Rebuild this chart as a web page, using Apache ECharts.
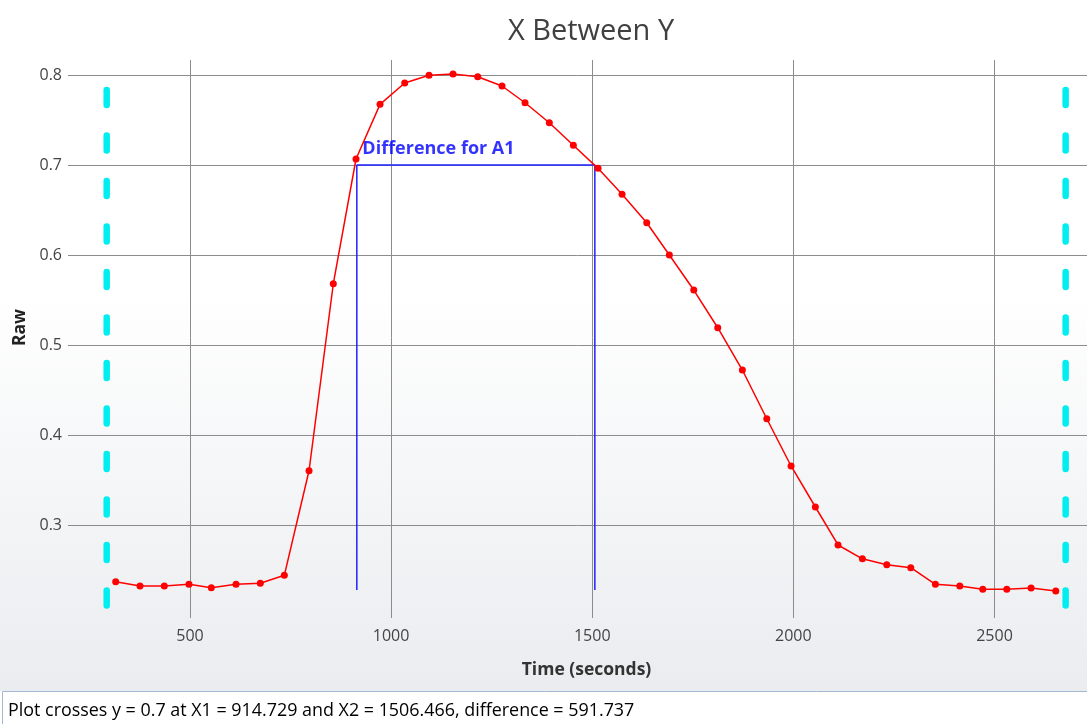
<!DOCTYPE html>
<html>
<head>
<meta charset="utf-8">
<title>X Between Y</title>
<script src="https://cdn.jsdelivr.net/npm/echarts@6/dist/echarts.min.js"></script>
<style>
  html, body { margin: 0; padding: 0; background: #fff; }
  #chart { width: 1087px; height: 724px; }
</style>
</head>
<body>
<div id="chart"></div>
<script>
// sample times (s) and raw readings
const timeSec = [315.3, 375.7, 436.1, 497.5, 553.0, 614.4, 674.8, 734.5, 795.9, 856.3,
  912.7, 972.4, 1033.8, 1094.2, 1153.9, 1215.3, 1275.7, 1332.9, 1393.3, 1453.0,
  1514.4, 1574.1, 1635.5, 1691.7, 1752.4, 1812.0, 1873.2, 1933.9, 1994.3, 2054.7,
  2111.1, 2171.6, 2232.2, 2291.9, 2353.1, 2413.7, 2470.9, 2530.6, 2591.0, 2652.4];
const raw = [0.2370, 0.2322, 0.2322, 0.2341, 0.2303, 0.2341, 0.2352, 0.2441, 0.3603, 0.5681,
  0.7067, 0.7674, 0.7911, 0.7997, 0.8011, 0.7981, 0.7878, 0.7692, 0.7470, 0.7219,
  0.6963, 0.6676, 0.6359, 0.6000, 0.5611, 0.5192, 0.4722, 0.4181, 0.3656, 0.3200,
  0.2778, 0.2624, 0.2559, 0.2526, 0.2341, 0.2322, 0.2286, 0.2286, 0.2300, 0.2267];

// crossing of y = 0.7
const crossY = 0.7;
const crossX = [914.729, 1506.466];
const crossBase = 0.2278;          // bottom of the blue drop lines
const crossLabel = 'Difference for A1';

// cyan bounds (left / right cursors)
const boundX = [292.9, 2676.9];
const boundY = [0.7833, 0.2106];   // drawn top -> bottom

const xTicks = [500, 1000, 1500, 2000, 2500];
const xRange = [196.7, 2730];
const yRange = [0.2, 0.8167];

const info = `Plot crosses y = ${crossY} at X1 = ${crossX[0]} and X2 = ${crossX[1]}, difference = ${(crossX[1] - crossX[0]).toFixed(3)}`;

const FONT = '"Open Sans", "Noto Sans", sans-serif';
const GRID = '#8c8c8c';

const chart = echarts.init(document.getElementById('chart'), null, { renderer: 'canvas' });

chart.setOption({
  animation: false,
  textStyle: { fontFamily: FONT },
  title: {
    text: 'X Between Y',
    left: 586,
    top: 12,
    textAlign: 'center',
    textStyle: { fontFamily: FONT, fontSize: 29, fontWeight: 'normal', color: '#404040' }
  },
  grid: { left: 68, right: 0, top: 60, bottom: 109, containLabel: false },
  graphic: [
    {
      type: 'rect', z: -10, silent: true,
      shape: { x: 0, y: 0, width: 1087, height: 691 },
      style: {
        fill: new echarts.graphic.LinearGradient(0, 0, 0, 1, [
          { offset: 0, color: '#ffffff' },
          { offset: 0.42, color: '#ffffff' },
          { offset: 1, color: '#eaecef' }
        ])
      }
    },
    {
      type: 'rect', z: -5, silent: true,
      shape: { x: 2.5, y: 691.5, width: 1090, height: 40 },
      style: { fill: '#ffffff', stroke: '#a4b8d0', lineWidth: 1 }
    },
    {
      type: 'text', silent: true,
      x: 8, y: 711,
      style: {
        text: info, fontFamily: FONT, fontSize: 17.9, fill: '#000000',
        textVerticalAlign: 'middle'
      }
    }
  ],
  xAxis: {
    type: 'value',
    min: xRange[0],
    max: xRange[1],
    name: 'Time (seconds)',
    nameLocation: 'middle',
    nameGap: 46,
    nameTextStyle: { fontFamily: FONT, fontSize: 17.5, fontWeight: 'bold', color: '#333', padding: [0, 0, 0, 18] },
    axisLine: { show: false },
    axisTick: { show: true, length: 3, inside: false, customValues: xTicks, lineStyle: { color: GRID } },
    axisLabel: {
      color: '#444', fontSize: 16, fontFamily: FONT, margin: 13,
      showMinLabel: false, showMaxLabel: false,
      formatter: (v) => String(v)
    },
    splitLine: { show: true, lineStyle: { color: GRID, width: 1 } }
  },
  yAxis: {
    type: 'value',
    min: yRange[0],
    max: yRange[1],
    name: 'Raw',
    nameLocation: 'middle',
    nameGap: 39,
    nameTextStyle: { fontFamily: FONT, fontSize: 17.5, fontWeight: 'bold', color: '#222', padding: [0, 0, 0, 20] },
    axisLine: { show: false },
    axisTick: { show: false },
    axisLabel: {
      color: '#444', fontSize: 16, fontFamily: FONT, margin: 6,
      showMinLabel: false, showMaxLabel: false
    },
    splitLine: { show: true, showMinLine: false, showMaxLine: false, lineStyle: { color: GRID, width: 1 } }
  },
  series: [
    {
      name: 'left bound', type: 'line', showSymbol: false, silent: true, z: 1,
      data: [[boundX[0], boundY[0]], [boundX[0], boundY[1]]],
      lineStyle: { color: '#00eef0', width: 6.5, type: [15, 30.5], cap: 'round' }
    },
    {
      name: 'right bound', type: 'line', showSymbol: false, silent: true, z: 1,
      data: [[boundX[1], boundY[0]], [boundX[1], boundY[1]]],
      lineStyle: { color: '#00eef0', width: 6.5, type: [15, 30.5], cap: 'round' }
    },
    {
      name: 'difference', type: 'line', showSymbol: false, silent: true, z: 2,
      data: [[crossX[0], crossBase], [crossX[0], crossY], [crossX[1], crossY], [crossX[1], crossBase]],
      lineStyle: { color: '#2020ff', width: 1.5 }
    },
    {
      name: 'label', type: 'scatter', silent: true, z: 3,
      symbolSize: 1,
      itemStyle: { color: 'rgba(0,0,0,0)' },
      data: [[crossX[0], crossY]],
      label: {
        show: true, formatter: crossLabel, position: [6, -25],
        fontFamily: FONT, fontSize: 18, fontWeight: 'bold', color: '#0000ff'
      }
    },
    {
      name: 'Raw', type: 'line', z: 4,
      data: timeSec.map((t, i) => [t, raw[i]]),
      symbol: 'circle', symbolSize: 7, showAllSymbol: true,
      itemStyle: { color: '#ff0000' },
      lineStyle: { color: '#ff0000', width: 1.5 }
    }
  ]
});
</script>
</body>
</html>
